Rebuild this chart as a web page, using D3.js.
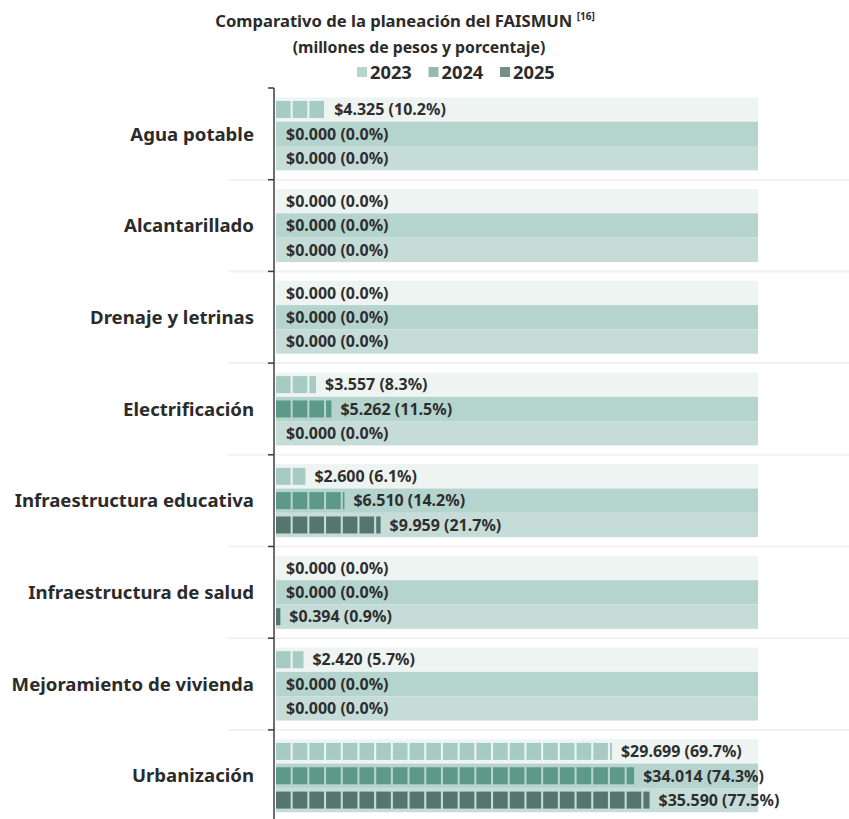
<!DOCTYPE html>
<html>
<head>
<meta charset="utf-8">
<script src="https://cdn.jsdelivr.net/npm/d3@7"></script>
<style>
  html, body { margin: 0; padding: 0; background: #fff; }
  svg { display: block; font-family: "Noto Sans", "Open Sans", sans-serif; }
</style>
</head>
<body>
<svg id="chart" width="849" height="819"></svg>
<script>
const categories = ["Agua potable", "Alcantarillado", "Drenaje y letrinas", "Electrificación",
  "Infraestructura educativa", "Infraestructura de salud", "Mejoramiento de vivienda", "Urbanización"];
const years = ["2023", "2024", "2025"];
const values2023 = [4.325, 0, 0, 3.557, 2.600, 0, 2.420, 29.699];
const values2024 = [0, 0, 0, 5.262, 6.510, 0, 0, 34.014];
const values2025 = [0, 0, 0, 0, 9.959, 0.394, 0, 35.590];
const pct2023 = [10.2, 0, 0, 8.3, 6.1, 0, 5.7, 69.7];
const pct2024 = [0, 0, 0, 11.5, 14.2, 0, 0, 74.3];
const pct2025 = [0, 0, 0, 0, 21.7, 0.9, 0, 77.5];
const xTicks = [0, 100];

const barColors = { "2023": "#a6cbc3", "2024": "#5c9989", "2025": "#55766d" };
const bandColors = { "2023": "#eef4f2", "2024": "#b5d4cd", "2025": "#c6dcd8" };
const legendColors = { "2023": "#b5d6ce", "2024": "#95b9af", "2025": "#748f87" };

const valuesByYear = { "2023": values2023, "2024": values2024, "2025": values2025 };
const pctByYear = { "2023": pct2023, "2024": pct2024, "2025": pct2025 };

const rows = [];
categories.forEach((c, i) => years.forEach(y => rows.push({
  cat: c, year: y, value: valuesByYear[y][i], pct: pctByYear[y][i]
})));

const svg = d3.select("#chart");

const y = d3.scaleBand().domain(categories).range([88, 821.6]).paddingInner(0.204).paddingOuter(0.102);
const yInner = d3.scaleBand().domain(years).range([0, y.bandwidth()]).padding(0);
const x = d3.scaleLinear().domain(d3.extent(xTicks)).range([276, 758]);

const pitch = 16.7, segW = 14.6, segH = 17;

// separators
const boundaries = categories.slice(1).map(c => y(c) - y.step() * y.paddingInner() / 2);
svg.append("g").selectAll("line").data(boundaries).join("line")
  .attr("x1", 228).attr("x2", 849).attr("y1", d => d).attr("y2", d => d)
  .attr("stroke", "#f1f1f1").attr("stroke-width", 2);

// background bands
const g = svg.append("g");
g.selectAll("rect.band").data(rows).join("rect").attr("class", "band")
  .attr("x", x(0)).attr("width", x(100) - x(0))
  .attr("y", d => y(d.cat) + yInner(d.year)).attr("height", yInner.bandwidth())
  .attr("fill", d => bandColors[d.year]);

// segmented bars
const segs = [];
rows.forEach(d => {
  const w = x(d.pct) - x(0);
  const n = Math.ceil(w / pitch);
  for (let i = 0; i < n; i++) {
    segs.push({ d, x0: x(0) + i * pitch, w: Math.min(segW, w - i * pitch) });
  }
});
g.selectAll("rect.seg").data(segs).join("rect").attr("class", "seg")
  .attr("x", s => s.x0).attr("width", s => Math.max(1.5, s.w))
  .attr("y", s => y(s.d.cat) + yInner(s.d.year) + (yInner.bandwidth() - segH) / 2)
  .attr("height", segH)
  .attr("fill", s => barColors[s.d.year]);

// value labels
g.selectAll("text.val").data(rows).join("text").attr("class", "val")
  .attr("x", d => x(d.pct) + (d.pct > 0 ? 9 : 10))
  .attr("y", d => y(d.cat) + yInner(d.year) + yInner.bandwidth() / 2)
  .attr("dy", "0.36em")
  .attr("font-size", 16).attr("font-weight", 700).attr("fill", "#2e2e2e")
  .text(d => `$${d.value.toFixed(3)} (${d.pct.toFixed(1)}%)`);

// axis
const axisG = svg.append("g").attr("transform", `translate(274,0)`);
axisG.append("line").attr("x1", 0).attr("x2", 0).attr("y1", 88).attr("y2", 819)
  .attr("stroke", "#3c3c3c").attr("stroke-width", 1.5);
axisG.selectAll("line.tick").data([88, ...boundaries]).join("line").attr("class", "tick")
  .attr("x1", -6).attr("x2", 0).attr("y1", d => d).attr("y2", d => d)
  .attr("stroke", "#3c3c3c").attr("stroke-width", 1.5);
axisG.selectAll("text.cat").data(categories).join("text").attr("class", "cat")
  .attr("x", -20).attr("y", d => y(d) + y.bandwidth() / 2).attr("dy", "0.36em")
  .attr("text-anchor", "end").attr("font-size", 18.6).attr("font-weight", 700).attr("fill", "#2b2b2b")
  .text(d => d);

// title
const title = svg.append("text").attr("x", 405).attr("y", 27).attr("text-anchor", "middle")
  .attr("font-size", 16.6).attr("font-weight", 700).attr("fill", "#2b2b2b");
title.append("tspan").text("Comparativo de la planeación del FAISMUN ");
title.append("tspan").attr("font-size", 10).attr("dy", -7).text("[16]");

svg.append("text").attr("x", 419).attr("y", 53).attr("text-anchor", "middle")
  .attr("font-size", 15.8).attr("font-weight", 700).attr("fill", "#2b2b2b")
  .text("(millones de pesos y porcentaje)");

// legend
const legendX = d3.scalePoint().domain(years).range([357, 500]);
const lg = svg.append("g").selectAll("g").data(years).join("g")
  .attr("transform", d => `translate(${legendX(d)},72)`);
lg.append("rect").attr("x", 0).attr("y", -5).attr("width", 10).attr("height", 10)
  .attr("fill", d => legendColors[d]);
lg.append("text").attr("x", 13).attr("y", 0).attr("dy", "0.36em")
  .attr("font-size", 18.3).attr("font-weight", 700).attr("fill", "#2b2b2b").text(d => d);
</script>
</body>
</html>
